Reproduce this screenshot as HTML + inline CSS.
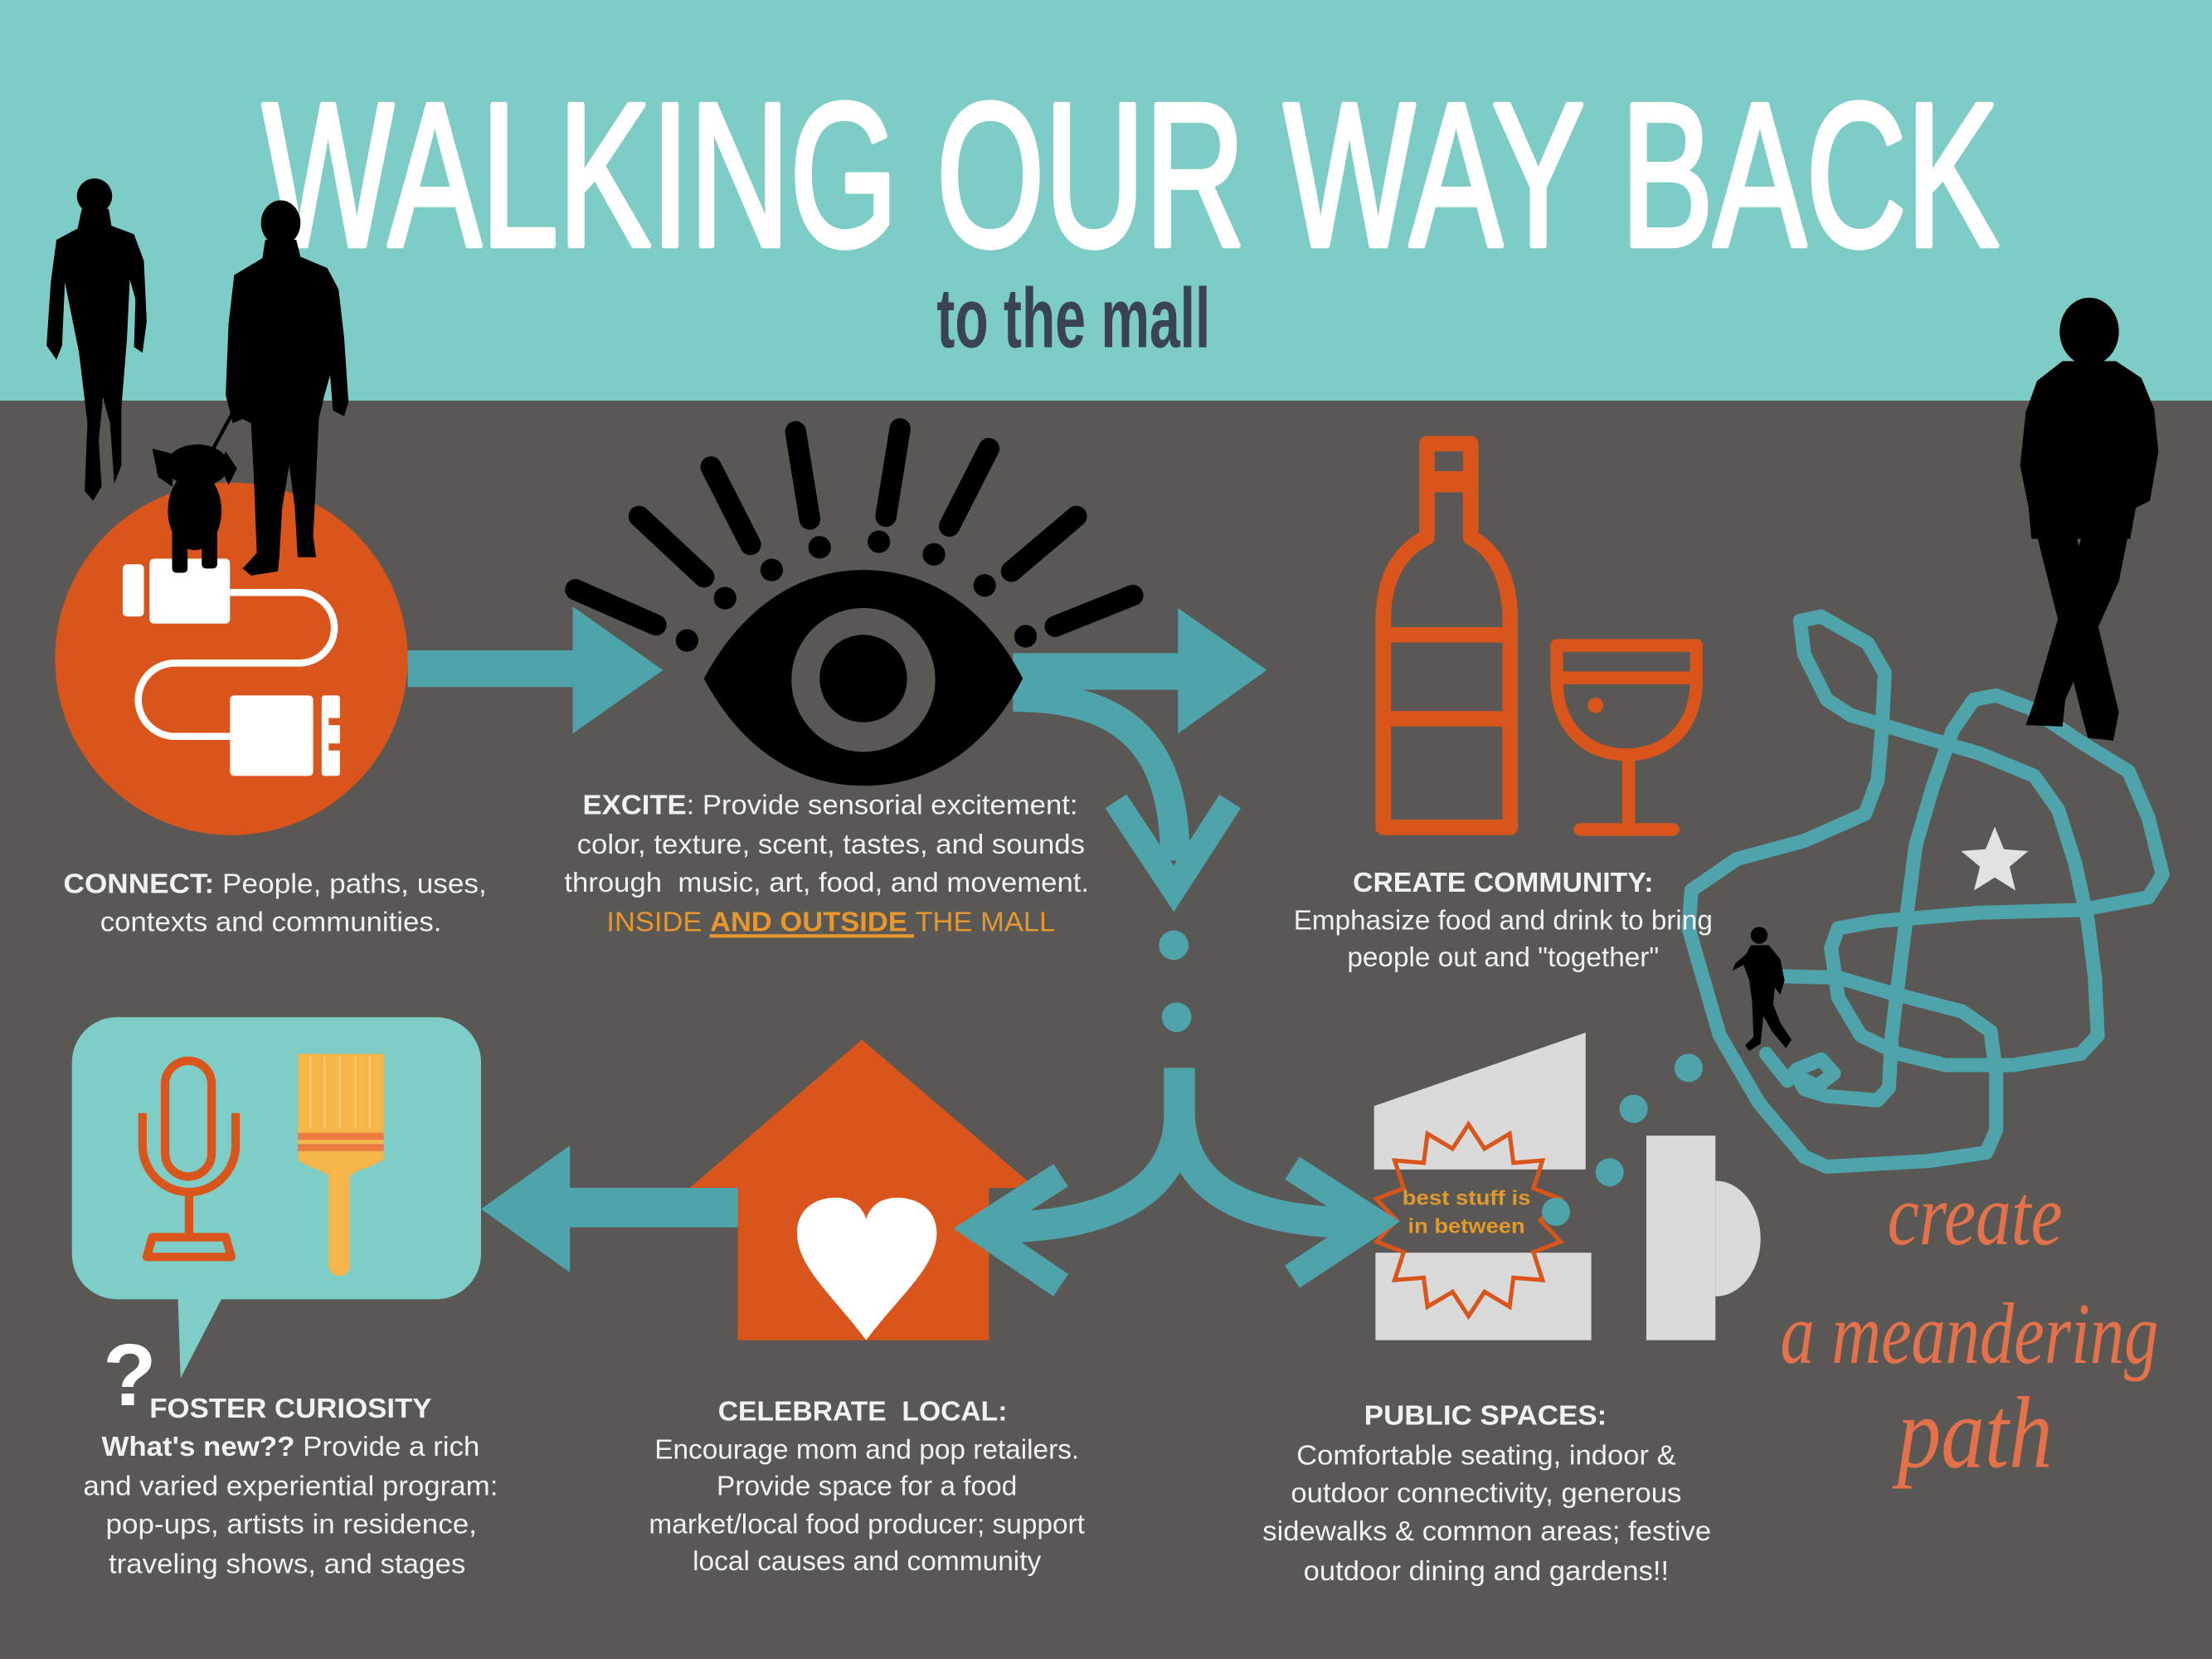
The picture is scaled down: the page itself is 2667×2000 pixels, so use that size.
<!DOCTYPE html>
<html>
<head>
<meta charset="utf-8">
<style>
html,body{margin:0;padding:0;background:#595854;}
svg{display:block;}
.b{font-family:"Liberation Sans",Arial,sans-serif;font-size:19.5px;fill:#F2F2F2;white-space:pre;}
.bd{font-weight:bold;}
</style>
</head>
<body>
<svg width="2667" height="2000" viewBox="0 0 1568 1176" preserveAspectRatio="none" xmlns="http://www.w3.org/2000/svg">
  <!-- backgrounds -->
  <rect x="0" y="0" width="1568" height="1176" fill="#595854"/>
  <rect x="0" y="0" width="1568" height="284" fill="#7DCCC5"/>

  <!-- title -->
  <text x="186" y="174" font-family="'Liberation Sans Narrow','Liberation Sans',Arial,sans-serif" font-size="145" fill="#FFFFFF" stroke="#FFFFFF" stroke-width="4" stroke-linejoin="round" textLength="1231" lengthAdjust="spacingAndGlyphs">WALKING OUR WAY BACK</text>
  <text x="664" y="246" font-family="'Liberation Sans Narrow','Liberation Sans',Arial,sans-serif" font-weight="bold" font-size="60" fill="#3A4350" textLength="194" lengthAdjust="spacingAndGlyphs">to the mall</text>

  <!-- orange circle with plug -->
  <circle cx="164" cy="467" r="125" fill="#D9551C"/>
  <rect x="87" y="400" width="15" height="37" rx="3" fill="#FFFFFF"/>
  <rect x="106" y="396" width="57" height="46" rx="3" fill="#FFFFFF"/>
  <path d="M163,420 H212 A25,25 0 0 1 212,470 H124 A26,26 0 0 0 124,522 H165" fill="none" stroke="#FFFFFF" stroke-width="5"/>
  <rect x="163" y="493" width="59" height="57" rx="3" fill="#FFFFFF"/>
  <rect x="228" y="493" width="13" height="57" rx="2" fill="#FFFFFF"/>
  <rect x="233" y="509" width="9" height="5" fill="#D9551C"/>
  <rect x="233" y="527" width="9" height="5" fill="#D9551C"/>

  <!-- arrow circle -> eye -->
  <polygon points="289,461 406,461 406,430 470,475 406,520 406,487 289,487" fill="#4FA3AA"/>

  <!-- right arrow + curved down arrow from eye -->
  <polygon points="718,463 835,463 835,431 898,475 835,520 835,489 718,489" fill="#4FA3AA"/>
  <path d="M718,494 C800,494 833,530 833,610" fill="none" stroke="#4FA3AA" stroke-width="21"/>
  <polyline points="791,568 832,630 872,568" fill="none" stroke="#4FA3AA" stroke-width="18" stroke-linejoin="miter"/>

  <!-- eye -->
  <g stroke="#000" stroke-width="15" stroke-linecap="round">
    <line x1="408" y1="418" x2="465" y2="443"/>
    <line x1="453" y1="366" x2="499" y2="409"/>
    <line x1="504" y1="331" x2="532" y2="386"/>
    <line x1="564" y1="306" x2="574" y2="368"/>
    <line x1="638" y1="304" x2="628" y2="366"/>
    <line x1="701" y1="318" x2="673" y2="373"/>
    <line x1="763" y1="366" x2="717" y2="405"/>
    <line x1="803" y1="422" x2="748" y2="444"/>
  </g>
  <g fill="#000">
    <circle cx="487" cy="454" r="8"/>
    <circle cx="514" cy="424" r="8"/>
    <circle cx="547" cy="404" r="8"/>
    <circle cx="581" cy="388" r="8"/>
    <circle cx="623" cy="384" r="8"/>
    <circle cx="662" cy="393" r="8"/>
    <circle cx="698" cy="415" r="8"/>
    <circle cx="727" cy="451" r="8"/>
  </g>
  <path d="M499,481 C525,432 565,404 612,404 C660,404 700,432 725,481 C700,530 660,557 612,557 C565,557 525,530 499,481 Z" fill="#000"/>
  <circle cx="612" cy="482" r="51" fill="#595854"/>
  <circle cx="612" cy="481" r="31" fill="#000"/>

  <!-- bottle & glass -->
  <g fill="none" stroke="#D9551C" stroke-width="11">
    <path d="M1011.5,381 L1011.5,314.5 L1042.5,314.5 L1042.5,381 C1060,390 1070.5,410 1070.5,440 L1070.5,586.5 L980.5,586.5 L980.5,440 C980.5,410 992,390 1011.5,381 Z" stroke-linejoin="round"/>
    <line x1="1011" y1="341.5" x2="1043" y2="341.5" stroke-width="15"/>
    <line x1="980" y1="450" x2="1071" y2="450"/>
    <line x1="980" y1="509.5" x2="1071" y2="509.5"/>
  </g>
  <g fill="none" stroke="#D9551C" stroke-width="9" stroke-linecap="round" stroke-linejoin="round">
    <path d="M1103.5,457.5 L1202.5,457.5 L1202.5,482 C1202.5,516 1181,535 1153,535 C1125,535 1103.5,516 1103.5,482 Z"/>
    <line x1="1104" y1="480.5" x2="1202" y2="480.5"/>
    <line x1="1154.5" y1="535" x2="1154.5" y2="588"/>
    <line x1="1120" y1="588" x2="1186" y2="588"/>
  </g>
  <circle cx="1131" cy="500" r="5.5" fill="#D9551C"/>

  <!-- teal dots below eye -->
  <circle cx="832" cy="670" r="10.5" fill="#4FA3AA"/>
  <circle cx="834" cy="721" r="10.5" fill="#4FA3AA"/>

  <!-- bubble -->
  <rect x="51" y="721" width="290" height="200" rx="32" fill="#7ECDC6"/>
  <polygon points="126,915 160,915 128,977" fill="#7ECDC6"/>
  <!-- microphone -->
  <g fill="none" stroke="#D9551C" stroke-width="6">
    <rect x="117" y="752" width="33" height="82" rx="16.5"/>
    <path d="M101,789 L101,812 A33,33 0 0 0 167,812 L167,789"/>
    <line x1="134" y1="845" x2="134" y2="877"/>
    <polygon points="108,877 160,877 164,891 104,891" stroke-linejoin="round"/>
  </g>
  <!-- paintbrush -->
  <rect x="211" y="747" width="61" height="58" fill="#F6B548"/>
  <g stroke="#F9C76A" stroke-width="1.5">
    <line x1="220" y1="748" x2="220" y2="800"/>
    <line x1="230" y1="748" x2="230" y2="800"/>
    <line x1="241" y1="748" x2="241" y2="800"/>
    <line x1="252" y1="748" x2="252" y2="800"/>
    <line x1="262" y1="748" x2="262" y2="800"/>
  </g>
  <rect x="211" y="803" width="61" height="5" fill="#EE7A40"/>
  <rect x="211" y="808" width="61" height="3" fill="#F6B548"/>
  <rect x="211" y="811" width="61" height="5" fill="#EE7A40"/>
  <path d="M211,816 L272,816 L272,822 C262,828 250,830 248,834 L248,897 A7.5,7.5 0 0 1 233,897 L233,834 C231,830 219,828 211,822 Z" fill="#F6B548"/>
  <!-- question mark -->
  <text x="73" y="996" font-family="'Liberation Sans',Arial,sans-serif" font-weight="bold" font-size="62" fill="#FFFFFF">?</text>

  <!-- arrow house -> bubble -->
  <polygon points="528,842 404,842 404,812 341,857 404,902 404,870 528,870" fill="#4FA3AA"/>

  <!-- house -->
  <polygon points="489,842 611,737 734,842" fill="#D9551C"/>
  <rect x="523" y="835" width="178" height="115" fill="#D9551C"/>
  <path d="M614,950 C590,918 565,898 565,874 C565,857 578,849 592,849 C604,849 611,855 614,864 C617,855 624,849 636,849 C650,849 664,857 664,874 C664,898 638,918 614,950 Z" fill="#FFFFFF"/>

  <!-- public spaces building -->
  <polygon points="974,784 1124,732 1124,829 974,829" fill="#DADADA"/>
  <rect x="975" y="888" width="153" height="62" fill="#DADADA"/>
  <rect x="1167" y="805" width="49" height="145" fill="#DADADA"/>
  <path d="M1216,837 A32,41 0 0 1 1216,919 Z" fill="#DADADA"/>
  <polygon fill="none" stroke="#D9551C" stroke-width="3" stroke-linejoin="miter" points="1041,797 1052.3,814.3 1070.1,803.7 1072.8,824.3 1093.4,822.6 1087,842.4 1106.3,849.9 1092,865 1106.3,880.1 1087,887.6 1093.4,907.4 1072.8,905.7 1070.1,926.3 1052.3,915.7 1041,933 1029.7,915.7 1011.9,926.3 1009.2,905.7 988.6,907.4 995,887.6 975.7,880.1 990,865 975.7,849.9 995,842.4 988.6,822.6 1009.2,824.3 1011.9,803.7 1029.7,814.3"/>
  <text x="994" y="854" font-family="'Liberation Sans',Arial,sans-serif" font-weight="bold" font-size="14.5" fill="#E39A2D" textLength="91" lengthAdjust="spacingAndGlyphs">best stuff is</text>
  <text x="998" y="874" font-family="'Liberation Sans',Arial,sans-serif" font-weight="bold" font-size="14.5" fill="#E39A2D" textLength="83" lengthAdjust="spacingAndGlyphs">in between</text>

  <!-- teal dots near building -->
  <circle cx="1197" cy="757" r="10" fill="#4FA3AA"/>
  <circle cx="1158" cy="786" r="10" fill="#4FA3AA"/>
  <circle cx="1141" cy="831" r="10" fill="#4FA3AA"/>
  <circle cx="1103" cy="859" r="10" fill="#4FA3AA"/>

  <!-- Y split arrows -->
  <g fill="none" stroke="#4FA3AA">
    <path d="M836,757 L836,790 C836,842 790,870 705,870" stroke-width="22"/>
    <path d="M836,790 C838,842 880,867 968,867" stroke-width="22"/>
    <polyline points="752,833 693,871 752,911" stroke-width="19" stroke-linejoin="miter"/>
    <polyline points="916,828 975,866 916,905" stroke-width="19" stroke-linejoin="miter"/>
  </g>

  <!-- meandering path -->
  <path fill="none" stroke="#4FA3AA" stroke-width="10" stroke-linejoin="round" stroke-linecap="round"
    d="M1264,692 L1303,693 L1341,704 L1391,717 L1411,731 L1415,761 L1415,801 L1408,817 L1367,823 L1295,827 L1279,820 L1247,782 L1219,734 L1197,658 L1199,631 L1231,609 L1279,596 L1322,577 L1331,553 L1334,518 L1336,477 L1324,456 L1291,437 L1276,440 L1279,464 L1295,496 L1312,507 L1355,520 L1403,534 L1442,550 L1459,574 L1471,612 L1480,653 L1485,693 L1487,734 L1475,747 L1427,755 L1379,755 L1346,747 L1319,734 L1303,707 L1298,672 L1303,658 L1331,653 L1403,647 L1475,645 L1523,636 L1533,620 L1523,580 L1509,547 L1475,526 L1439,502 L1415,493 L1399,496 L1384,518 L1370,558 L1358,599 L1351,653 L1346,693 L1341,734 L1339,771 L1331,780 L1295,777 L1279,772 L1274,763 L1288,770 L1300,761 L1291,751 L1274,758 L1267,766 L1252,747"/>
  <polygon points="1414,586 1420.5,602 1437.8,603.3 1424.5,614.4 1428.7,631.2 1414,622 1399.3,631.2 1403.5,614.4 1390.2,603.3 1407.5,602" fill="#E2E2E2"/>

  <!-- create a meandering path -->
  <g font-family="'Liberation Serif','DejaVu Serif',serif" font-style="italic" fill="#E5714B">
    <text x="1338" y="882" font-size="62" textLength="124" lengthAdjust="spacingAndGlyphs">create</text>
    <text x="1262" y="966" font-size="62" textLength="268" lengthAdjust="spacingAndGlyphs">a meandering</text>
    <text x="1345" y="1040" font-size="72" textLength="110" lengthAdjust="spacingAndGlyphs">path</text>
  </g>

  <!-- silhouettes: left person -->
  <g fill="#000">
    <circle cx="67" cy="139" r="12.5"/>
    <path d="M58,148 L77,148 L79,160 L95,166 L102,185 L104,228 L101,250 L95,246 L96,212 L92,198 L90,240 L86,290 L86,330 L81,343 L78,300 L73,282 L70,312 L72,345 L66,355 L60,348 L62,300 L56,250 L50,220 L46,200 L44,245 L40,255 L33,245 L36,200 L40,170 L55,162 Z"/>
    <!-- second person -->
    <ellipse cx="199" cy="158" rx="14" ry="16"/>
    <path d="M188,170 L210,170 L213,182 L232,190 L240,205 L244,240 L247,285 L244,295 L236,291 L234,266 L230,280 L226,297 L224,340 L222,380 L224,395 L211,395 L209,360 L205,330 L200,360 L198,395 L197,405 L178,408 L172,403 L182,392 L180,340 L178,300 L172,297 L165,300 L160,280 L162,230 L166,195 L186,183 Z"/>
    <!-- leash -->
    <line x1="168" y1="287" x2="150" y2="320" stroke="#000" stroke-width="2.5"/>
    <!-- dog -->
    <ellipse cx="140" cy="330" rx="22" ry="15"/>
    <polygon points="108,318 124,322 122,345 112,338"/>
    <polygon points="160,320 168,332 162,344 156,330"/>
    <ellipse cx="138" cy="362" rx="19" ry="28"/>
    <rect x="122" y="375" width="11" height="31" rx="3"/>
    <rect x="143" y="375" width="11" height="28" rx="3"/>
    <!-- big right person -->
    <ellipse cx="1481" cy="235" rx="21" ry="24"/>
    <path d="M1462,256 L1500,256 L1518,268 L1527,290 L1530,320 L1524,355 L1514,360 L1510,382 L1440,382 L1438,360 L1432,330 L1436,292 L1444,270 Z"/>
    <polygon points="1442,372 1470,372 1502,505 1498,525 1480,523 1476,508"/>
    <polygon points="1478,372 1510,372 1502,412 1464,496 1462,515 1436,514 1442,497"/>
    <!-- small figure -->
    <circle cx="1247" cy="663" r="6"/>
    <path d="M1241,670 L1254,670 L1262,680 L1265,695 L1262,705 L1258,700 L1257,712 L1262,725 L1270,737 L1266,743 L1256,731 L1250,720 L1248,740 L1240,745 L1237,741 L1243,735 L1242,710 L1240,695 L1236,684 L1228,688 L1230,683 L1238,676 Z"/>
  </g>

  <!-- text blocks -->
  <text class="b" x="45" y="633" textLength="300" lengthAdjust="spacingAndGlyphs"><tspan class="bd">CONNECT:</tspan> People, paths, uses,</text>
  <text class="b" x="71" y="660" textLength="242" lengthAdjust="spacingAndGlyphs">contexts and communities.</text>

  <text class="b" x="413" y="577" textLength="351" lengthAdjust="spacingAndGlyphs"><tspan class="bd">EXCITE</tspan>: Provide sensorial excitement:</text>
  <text class="b" x="409" y="605" textLength="360" lengthAdjust="spacingAndGlyphs">color, texture, scent, tastes, and sounds</text>
  <text class="b" x="400" y="632" textLength="372" lengthAdjust="spacingAndGlyphs">through  music, art, food, and movement.</text>
  <text class="b" x="430" y="660" textLength="318" lengthAdjust="spacingAndGlyphs" style="fill:#E8962E">INSIDE <tspan class="bd">AND OUTSIDE </tspan>THE MALL</text>
  <line x1="503" y1="663.5" x2="648" y2="663.5" stroke="#E8962E" stroke-width="2.5"/>

  <text class="b" x="959" y="632" textLength="213" lengthAdjust="spacingAndGlyphs"><tspan class="bd">CREATE COMMUNITY:</tspan></text>
  <text class="b" x="917" y="659" textLength="297" lengthAdjust="spacingAndGlyphs">Emphasize food and drink to bring</text>
  <text class="b" x="955" y="685" textLength="221" lengthAdjust="spacingAndGlyphs">people out and "together"</text>

  <text class="b bd" x="106" y="1005" textLength="200" lengthAdjust="spacingAndGlyphs">FOSTER CURIOSITY</text>
  <text class="b" x="72" y="1032" textLength="268" lengthAdjust="spacingAndGlyphs"><tspan class="bd">What's new??</tspan> Provide a rich</text>
  <text class="b" x="59" y="1060" textLength="294" lengthAdjust="spacingAndGlyphs">and varied experiential program:</text>
  <text class="b" x="75" y="1087" textLength="263" lengthAdjust="spacingAndGlyphs">pop-ups, artists in residence,</text>
  <text class="b" x="77" y="1115" textLength="253" lengthAdjust="spacingAndGlyphs">traveling shows, and stages</text>

  <text class="b bd" x="509" y="1007" textLength="205" lengthAdjust="spacingAndGlyphs">CELEBRATE  LOCAL:</text>
  <text class="b" x="464" y="1034" textLength="301" lengthAdjust="spacingAndGlyphs">Encourage mom and pop retailers.</text>
  <text class="b" x="508" y="1060" textLength="213" lengthAdjust="spacingAndGlyphs">Provide space for a food</text>
  <text class="b" x="460" y="1087" textLength="309" lengthAdjust="spacingAndGlyphs">market/local food producer; support</text>
  <text class="b" x="491" y="1113" textLength="247" lengthAdjust="spacingAndGlyphs">local causes and community</text>

  <text class="b bd" x="967" y="1010" textLength="172" lengthAdjust="spacingAndGlyphs">PUBLIC SPACES:</text>
  <text class="b" x="919" y="1038" textLength="269" lengthAdjust="spacingAndGlyphs">Comfortable seating, indoor &amp;</text>
  <text class="b" x="915" y="1065" textLength="277" lengthAdjust="spacingAndGlyphs">outdoor connectivity, generous</text>
  <text class="b" x="895" y="1092" textLength="318" lengthAdjust="spacingAndGlyphs">sidewalks &amp; common areas; festive</text>
  <text class="b" x="924" y="1120" textLength="259" lengthAdjust="spacingAndGlyphs">outdoor dining and gardens!!</text>
</svg>
</body>
</html>
